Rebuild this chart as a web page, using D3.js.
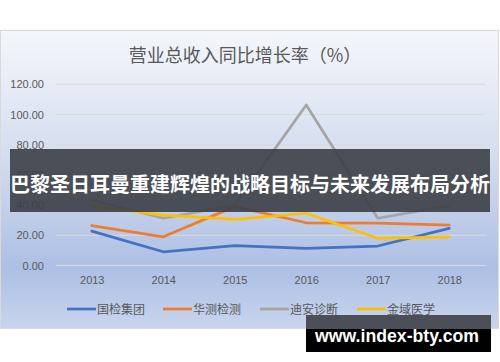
<!DOCTYPE html>
<html>
<head>
<meta charset="utf-8">
<script src="https://cdn.jsdelivr.net/npm/d3@7"></script>
<style>
  body { margin: 0; background: #fff; }
  svg { display: block; }
</style>
</head>
<body>
<div id="chart"></div>
<script>
const WIDTH = 500;
const HEIGHT = 362;

const years = ['2013', '2014', '2015', '2016', '2017', '2018'];
const yTicks = [0, 20, 40, 60, 80, 100, 120];
const seriesNames = ['国检集团', '华测检测', '迪安诊断', '金域医学'];
const seriesColors = ['#4472c4', '#ed7d31', '#a5a5a5', '#ffc000'];

const guojian = [22.8, 9.1, 13.1, 11.4, 12.9, 24.6];
const huace = [26.4, 19.0, 39.0, 28.3, 28.0, 26.8];
const dian = [43.4, 31.3, 40.0, 106.3, 31.3, 39.6];
const jinyu = [39.4, 33.4, 30.6, 34.6, 18.0, 19.0];

const seriesValues = [guojian, huace, dian, jinyu];

const title = '营业总收入同比增长率（%）';
const bannerText = '巴黎圣日耳曼重建辉煌的战略目标与未来发展布局分析';
const watermark = 'www.index-bty.com';

const CJK = '"Noto Sans CJK SC", "Noto Sans", sans-serif';
const LATIN = '"Liberation Sans", "DejaVu Sans", sans-serif';

var svg = d3.select('#chart')
    .append('svg')
    .attr('width', WIDTH)
    .attr('height', HEIGHT);

// chart area background
let grad = svg.append('defs')
    .append('linearGradient')
    .attr('id', 'bg')
    .attr('x1', 0).attr('y1', 0)
    .attr('x2', 0).attr('y2', 1);
grad.append('stop').attr('offset', '0%').attr('stop-color', '#f4f6fb');
grad.append('stop').attr('offset', '40%').attr('stop-color', '#d6dff0');
grad.append('stop').attr('offset', '80%').attr('stop-color', '#adbfe4');
grad.append('stop').attr('offset', '100%').attr('stop-color', '#c9d5ee');

svg.append('rect')
    .attr('x', 0.5)
    .attr('y', 30.5)
    .attr('width', 498)
    .attr('height', 298)
    .attr('fill', 'url(#bg)')
    .attr('stroke', '#d9d9d9')
    .attr('stroke-width', 1);

svg.append('text')
    .attr('x', 245)
    .attr('y', 62)
    .attr('text-anchor', 'middle')
    .attr('font-family', CJK)
    .attr('font-size', 18)
    .attr('fill', '#595959')
    .text(title);

let x = d3.scalePoint()
    .domain(years)
    .range([56, 485])
    .padding(0.5);

let y = d3.scaleLinear()
    .domain([0, 120])
    .range([265.5, 84.3]);

// gridlines
svg.append('g')
    .selectAll('line')
    .data(yTicks)
    .enter()
    .append('line')
    .attr('x1', 56)
    .attr('x2', 485)
    .attr('y1', d => y(d))
    .attr('y2', d => y(d))
    .attr('stroke', '#dcdad6')
    .attr('stroke-width', 1);

// y axis
let yAxis = svg.append('g')
    .attr('transform', 'translate(48,0)')
    .call(d3.axisLeft(y).tickValues(yTicks).tickFormat(d3.format('.2f')).tickSize(0).tickPadding(4));
yAxis.select('.domain').remove();
yAxis.selectAll('text')
    .attr('font-family', LATIN)
    .attr('font-size', 11)
    .attr('fill', '#595959');

// x axis
let xAxis = svg.append('g')
    .attr('transform', 'translate(0,274)')
    .call(d3.axisBottom(x).tickSize(0).tickPadding(2));
xAxis.select('.domain').remove();
xAxis.selectAll('text')
    .attr('font-family', LATIN)
    .attr('font-size', 11)
    .attr('fill', '#595959');

// lines
let line = d3.line()
    .x((d, i) => x(years[i]))
    .y(d => y(d));

svg.append('g')
    .selectAll('path')
    .data(seriesValues)
    .enter()
    .append('path')
    .attr('d', d => line(d))
    .attr('fill', 'none')
    .attr('stroke', (d, i) => seriesColors[i])
    .attr('stroke-width', 2.75)
    .attr('stroke-linejoin', 'round')
    .attr('stroke-linecap', 'round');

// legend
const legendX = [67, 163, 260, 357];
let legend = svg.append('g')
    .selectAll('g')
    .data(seriesNames)
    .enter()
    .append('g')
    .attr('transform', (d, i) => `translate(${legendX[i]},309)`);

legend.append('line')
    .attr('x1', 0)
    .attr('x2', 29)
    .attr('y1', 0)
    .attr('y2', 0)
    .attr('stroke', (d, i) => seriesColors[i])
    .attr('stroke-width', 2.75);

legend.append('text')
    .attr('x', 30)
    .attr('y', 4.5)
    .attr('font-family', CJK)
    .attr('font-size', 12)
    .attr('fill', '#595959')
    .text(d => d);

// overlay banner
svg.append('rect')
    .attr('x', 10)
    .attr('y', 149)
    .attr('width', 480)
    .attr('height', 63)
    .attr('fill', '#3b3f47')
    .attr('opacity', 0.9);

svg.append('text')
    .attr('x', 250)
    .attr('y', 192)
    .attr('text-anchor', 'middle')
    .attr('font-family', CJK)
    .attr('font-weight', 'bold')
    .attr('font-size', 20)
    .attr('fill', '#fff')
    .text(bannerText);

// watermark
svg.append('rect')
    .attr('x', 306)
    .attr('y', 315)
    .attr('width', 185)
    .attr('height', 15)
    .attr('fill', '#4a4f58');
svg.append('rect')
    .attr('x', 306)
    .attr('y', 329)
    .attr('width', 185)
    .attr('height', 23)
    .attr('fill', '#000');

svg.append('text')
    .attr('x', 315)
    .attr('y', 342)
    .attr('font-family', LATIN)
    .attr('font-weight', 'bold')
    .attr('font-size', 19)
    .attr('textLength', 164)
    .attr('lengthAdjust', 'spacingAndGlyphs')
    .attr('fill', '#fff')
    .text(watermark);
</script>
</body>
</html>
